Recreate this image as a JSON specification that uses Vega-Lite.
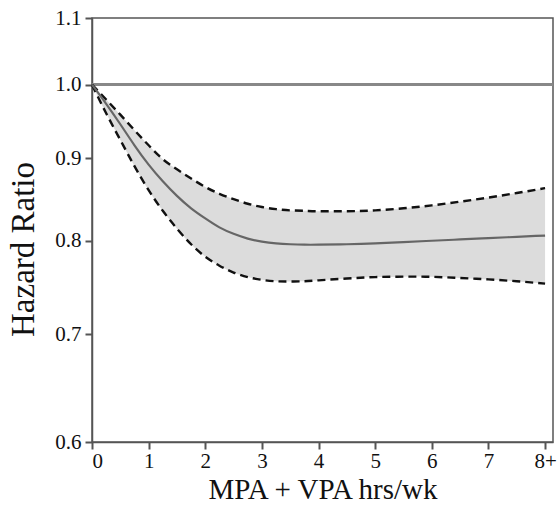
{
  "$schema": "https://vega.github.io/schema/vega-lite/v6.json",
  "autosize": "none",
  "padding": {"left": 92, "top": 18, "right": 5, "bottom": 70},
  "width": 461,
  "height": 424,
  "background": "white",
  "config": {
    "view": {"stroke": "#555", "strokeWidth": 1.5},
    "font": "Liberation Serif",
    "axis": {
      "domainColor": "#555",
      "domainWidth": 1.5,
      "tickColor": "#555",
      "tickWidth": 2,
      "tickSize": 7,
      "grid": false,
      "labelFont": "Liberation Serif",
      "labelFontSize": 21,
      "labelColor": "#111",
      "titleFont": "Liberation Serif",
      "titleFontWeight": "normal",
      "titleColor": "#111"
    }
  },
  "data": {
    "values": [
      {"x": 0, "est": 1.0, "lo": 1.0, "hi": 1.0},
      {"x": 0.25, "est": 0.973, "lo": 0.96, "hi": 0.979},
      {"x": 0.5, "est": 0.945, "lo": 0.924, "hi": 0.958},
      {"x": 0.75, "est": 0.917, "lo": 0.89, "hi": 0.937},
      {"x": 1.0, "est": 0.892, "lo": 0.86, "hi": 0.917},
      {"x": 1.25, "est": 0.871, "lo": 0.835, "hi": 0.899},
      {"x": 1.5, "est": 0.853, "lo": 0.814, "hi": 0.886},
      {"x": 1.75, "est": 0.838, "lo": 0.796, "hi": 0.8745},
      {"x": 2.0, "est": 0.826, "lo": 0.782, "hi": 0.864},
      {"x": 2.25, "est": 0.8155, "lo": 0.772, "hi": 0.8555},
      {"x": 2.5, "est": 0.808, "lo": 0.7645, "hi": 0.849},
      {"x": 2.75, "est": 0.8025, "lo": 0.7595, "hi": 0.8435},
      {"x": 3.0, "est": 0.799, "lo": 0.7565, "hi": 0.8395},
      {"x": 3.25, "est": 0.797, "lo": 0.755, "hi": 0.837},
      {"x": 3.5, "est": 0.796, "lo": 0.7548, "hi": 0.8355},
      {"x": 3.75, "est": 0.7955, "lo": 0.755, "hi": 0.835},
      {"x": 4.0, "est": 0.7955, "lo": 0.756, "hi": 0.8345},
      {"x": 4.5, "est": 0.796, "lo": 0.758, "hi": 0.8345},
      {"x": 5.0, "est": 0.797, "lo": 0.7595, "hi": 0.8355},
      {"x": 5.5, "est": 0.7985, "lo": 0.76, "hi": 0.838},
      {"x": 6.0, "est": 0.8, "lo": 0.7598, "hi": 0.8415},
      {"x": 6.5, "est": 0.8015, "lo": 0.7585, "hi": 0.846},
      {"x": 7.0, "est": 0.803, "lo": 0.757, "hi": 0.851},
      {"x": 7.5, "est": 0.8045, "lo": 0.755, "hi": 0.8565},
      {"x": 8.0, "est": 0.806, "lo": 0.7525, "hi": 0.8625}
    ]
  },
  "layer": [
    {
      "mark": {"type": "area", "color": "#dcdcdc", "opacity": 1, "interpolate": "natural"},
      "encoding": {
        "x": {
          "field": "x",
          "type": "quantitative",
          "scale": {"domain": [0, 8.14], "nice": false, "zero": false},
          "axis": {
            "values": [0, 1, 2, 3, 4, 5, 6, 7, 8],
            "format": "d",
            "labelExpr": "datum.value == 8 ? '8+' : datum.label",
            "labelPadding": 1,
            "title": "MPA + VPA hrs/wk",
            "titleFontSize": 29,
            "titlePadding": 4
          }
        },
        "y": {
          "field": "lo",
          "type": "quantitative",
          "scale": {"type": "log", "domain": [0.6, 1.1], "nice": false},
          "axis": {
            "values": [0.6, 0.7, 0.8, 0.9, 1.0, 1.1],
            "format": ".1f",
            "labelPadding": 4,
            "title": "Hazard Ratio",
            "titleFontSize": 33,
            "titlePadding": 14,
            "titleY": 231
          }
        },
        "y2": {"field": "hi"}
      }
    },
    {
      "mark": {"type": "rule", "color": "#888", "strokeWidth": 2},
      "encoding": {"y": {"datum": 1.0}}
    },
    {
      "mark": {"type": "line", "color": "#111", "strokeWidth": 2.4, "strokeDash": [8, 5], "interpolate": "natural"},
      "encoding": {
        "x": {"field": "x", "type": "quantitative"},
        "y": {"field": "lo", "type": "quantitative"}
      }
    },
    {
      "mark": {"type": "line", "color": "#111", "strokeWidth": 2.4, "strokeDash": [8, 5], "interpolate": "natural"},
      "encoding": {
        "x": {"field": "x", "type": "quantitative"},
        "y": {"field": "hi", "type": "quantitative"}
      }
    },
    {
      "mark": {"type": "line", "color": "#666", "strokeWidth": 2.2, "interpolate": "natural"},
      "encoding": {
        "x": {"field": "x", "type": "quantitative"},
        "y": {"field": "est", "type": "quantitative"}
      }
    }
  ]
}
